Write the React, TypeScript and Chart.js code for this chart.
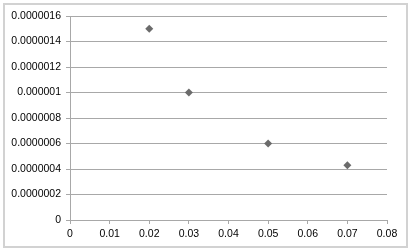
import React, { useEffect, useRef } from "react";
import { Chart, registerables } from "chart.js";

Chart.register(...registerables);

const xValues = [0.02, 0.03, 0.05, 0.07];
const yValues = [0.0000015, 0.000001, 0.0000006, 0.00000043];
const xTickLabels = ["0", "0.01", "0.02", "0.03", "0.04", "0.05", "0.06", "0.07", "0.08"];
const yTickLabels = ["0", "0.0000002", "0.0000004", "0.0000006", "0.0000008", "0.000001", "0.0000012", "0.0000014", "0.0000016"];

const frame = {
  id: "frame",
  afterDraw(chart: any) {
    const ctx = chart.ctx;
    ctx.save();
    ctx.strokeStyle = "#d2d2d2";
    ctx.lineWidth = 2;
    ctx.strokeRect(4, 4, 403, 243);
    ctx.restore();
  },
};

export default function App() {
  const ref = useRef<HTMLCanvasElement>(null);
  useEffect(() => {
    document.body.style.margin = "0";
    const font = { family: "'Liberation Sans', Arial, sans-serif", size: 10.5 };
    const chart = new Chart(ref.current!, {
      type: "scatter",
      data: {
        datasets: [
          {
            data: xValues.map((x, i) => ({ x, y: yValues[i] })),
            pointStyle: "rectRot",
            pointRadius: 4,
            backgroundColor: "#6b6b6b",
            borderColor: "#6b6b6b",
            borderWidth: 0,
          },
        ],
      },
      options: {
        animation: false,
        responsive: false,
        layout: { padding: { left: 0, top: 16, right: 25, bottom: 0 } },
        plugins: { legend: { display: false }, tooltip: { enabled: false } },
        scales: {
          x: {
            type: "linear",
            min: 0,
            max: 0.08,
            afterFit: (s: any) => { s.height = 32; },
            ticks: {
              stepSize: 0.01,
              color: "#000",
              font,
              padding: 4,
              maxRotation: 0,
              callback: (_v: any, i: number) => xTickLabels[i],
            },
            grid: { drawOnChartArea: false, drawTicks: true, tickLength: 4, color: "#a8a8a8" },
            border: { display: false },
          },
          y: {
            type: "linear",
            min: 0,
            max: 0.0000016,
            afterFit: (s: any) => { s.width = 70; },
            ticks: {
              stepSize: 0.0000002,
              color: "#000",
              font,
              padding: 5,
              callback: (_v: any, i: number) => yTickLabels[i],
            },
            grid: { color: "#a8a8a8", tickLength: 4 },
            border: { display: true, color: "#a8a8a8" },
          },
        },
      },
      plugins: [frame],
    });
    return () => chart.destroy();
  }, []);
  return (
    <div style={{ position: "absolute", left: 0, top: 0, width: 412, height: 252, background: "#fff" }}>
      <canvas ref={ref} width={412} height={252} style={{ width: 412, height: 252 }} />
    </div>
  );
}
